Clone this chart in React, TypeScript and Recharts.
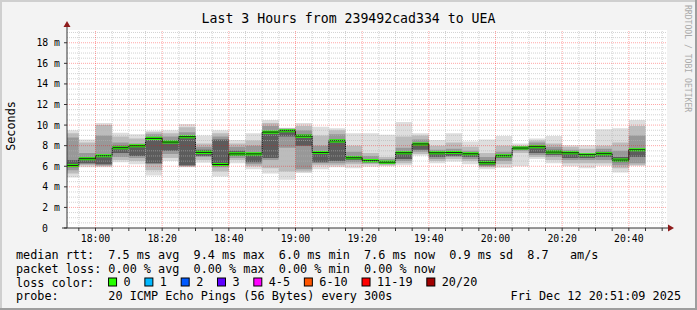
import {
    ComposedChart, Area, Line, XAxis, YAxis, CartesianGrid,
    ReferenceLine, ReferenceDot,
} from "recharts";

// 5 minute steps, each value holds from its start time to the next one
const TIMES = [
    "17:50", "17:55", "18:00", "18:05", "18:10", "18:15", "18:20", "18:25", "18:30",
    "18:35", "18:40", "18:45", "18:50", "18:55", "19:00", "19:05", "19:10", "19:15",
    "19:20", "19:25", "19:30", "19:35", "19:40", "19:45", "19:50", "19:55", "20:00",
    "20:05", "20:10", "20:15", "20:20", "20:25", "20:30", "20:35", "20:40", "20:45",
];

// median rtt in ms
const MEDIAN = [
    6.08, 6.73, 7.02, 7.8, 7.99, 8.71, 8.35, 8.87, 7.35, 6.17, 7.2, 7.2,
    9.32, 9.45, 8.93, 7.33, 8.47, 6.82, 6.55, 6.4, 7.31, 8.17, 7.31, 7.33,
    7.21, 6.34, 7.02, 7.77, 7.9, 7.38, 7.31, 7.12, 7.22, 6.6, 7.6,
];

// smoke bands, outer to inner (ms)
const SMOKE_MIN = [
    4.9, 5.9, 5.9, 6.4, 6.2, 5.1, 6.5, 5.9, 6.35, 5.0, 6.3, 5.7,
    5.3, 4.7, 5.35, 5.7, 5.9, 5.8, 5.95, 6.0, 6.1, 7.05, 6.3, 6.45,
    6.2, 5.7, 5.85, 6.0, 6.7, 6.3, 6.0, 5.8, 6.05, 5.4, 6.05,
];
const SMOKE_MAX = [
    9.5, 8.6, 10.2, 9.25, 9.1, 9.45, 9.5, 10.1, 9.0, 9.5, 8.55, 9.2,
    10.5, 9.75, 10.2, 9.85, 9.7, 9.2, 9.2, 9.05, 10.3, 9.2, 8.55, 9.2,
    8.4, 8.6, 8.95, 8.2, 8.7, 8.95, 8.05, 8.05, 9.6, 9.7, 10.5,
];
const SMOKE_LO2 = [
    5.3, 6.1, 6.0, 6.6, 6.5, 5.6, 6.8, 6.0, 6.6, 5.5, 6.6, 6.0,
    5.8, 5.5, 5.5, 6.1, 6.1, 6.2, 6.2, 6.1, 6.3, 7.2, 6.5, 6.7,
    6.5, 5.9, 6.2, 7.3, 6.9, 6.6, 6.3, 6.3, 6.3, 5.8, 6.1,
];
const SMOKE_HI2 = [
    9.2, 8.3, 10.0, 8.9, 8.7, 9.3, 9.2, 9.8, 8.2, 9.2, 8.2, 8.5,
    10.2, 9.7, 9.9, 9.0, 9.5, 8.0, 7.3, 6.9, 8.9, 9.0, 8.0, 8.3,
    7.9, 7.3, 8.0, 8.0, 8.5, 8.2, 7.9, 7.7, 8.0, 8.3, 9.9,
];
const SMOKE_LO3 = [
    5.6, 6.2, 6.1, 6.9, 6.8, 6.2, 7.2, 6.0, 6.9, 5.9, 6.8, 6.2,
    6.6, 7.8, 5.7, 6.3, 6.3, 6.4, 6.3, 6.2, 6.5, 7.4, 6.7, 6.9,
    6.7, 6.0, 6.5, 7.5, 7.1, 6.9, 6.6, 6.6, 6.6, 6.1, 6.3,
];
const SMOKE_HI3 = [
    8.8, 7.3, 9.0, 8.3, 8.2, 9.1, 8.9, 9.3, 7.9, 8.9, 7.9, 8.0,
    9.9, 9.65, 9.5, 8.0, 9.1, 7.4, 7.0, 6.7, 7.8, 8.6, 7.6, 7.7,
    7.5, 6.9, 7.4, 7.95, 8.3, 7.9, 7.6, 7.3, 7.7, 7.5, 9.0,
];
const SMOKE_LO4 = [
    5.9, 6.3, 6.2, 7.3, 7.0, 6.3, 7.5, 6.1, 7.0, 6.1, 7.0, 6.4,
    6.8, 8.9, 8.0, 6.4, 6.5, 6.6, 6.4, 6.25, 6.7, 7.6, 6.9, 7.0,
    6.9, 6.1, 6.8, 7.6, 7.3, 7.1, 6.8, 6.8, 6.9, 6.4, 6.9,
];
const SMOKE_HI4 = [
    6.6, 6.9, 7.1, 8.0, 8.05, 8.8, 8.5, 8.9, 7.6, 8.6, 7.5, 7.25,
    9.4, 9.6, 9.1, 7.4, 8.6, 7.0, 6.7, 6.5, 7.35, 8.2, 7.35, 7.4,
    7.3, 6.6, 7.15, 7.9, 8.0, 7.6, 7.4, 7.2, 7.4, 6.9, 7.65,
];

const X_LABELS = ["18:00", "18:20", "18:40", "19:00", "19:20", "19:40", "20:00", "20:20", "20:40"];
const Y_LABELS = [0, 2, 4, 6, 8, 10, 12, 14, 16, 18];

const LOSS_LABELS = ["0", "1", "2", "3", "4-5", "6-10", "11-19", "20/20"];
const LOSS_COLORS = ["#26ff00", "#00b8ff", "#0059ff", "#5e00ff", "#ff00ff", "#ff5500", "#ff0000", "#a10000"];

const TITLE = "Last 3 Hours from 239492cad334 to UEA";
const LEGEND_LINES = [
    "median rtt:  7.5 ms avg  9.4 ms max  6.0 ms min  7.6 ms now  0.9 ms sd  8.7   am/s",
    "packet loss: 0.00 % avg  0.00 % max  0.00 % min  0.00 % now",
    "loss color:",
    "probe:       20 ICMP Echo Pings (56 Bytes) every 300s",
];
const STAMP = "Fri Dec 12 20:51:09 2025";

const toMin = (s: string) => {
    const [h, m] = s.split(":").map(Number);
    return h * 60 + m;
};

const X_START = 1071.45;
const X_END = X_START + 180;
const Y_MAX = 19.24;

const FONT = "'DejaVu Sans Mono', monospace";
const AXIS = "#333333";
const ARROW = "#8e1b1b";
const CW = 7.12; // legend char width
const PRE = { whiteSpace: "pre" as const };

const last = MEDIAN.length - 1;
const rows = TIMES.map((t, i) => {
    const k = Math.min(i, last);
    return {
        t: toMin(t),
        med: MEDIAN[k],
        min: SMOKE_MIN[k], max: SMOKE_MAX[k],
        lo2: SMOKE_LO2[k], hi2: SMOKE_HI2[k],
        lo3: SMOKE_LO3[k], hi3: SMOKE_HI3[k],
        lo4: SMOKE_LO4[k], hi4: SMOKE_HI4[k],
    };
});

const BANDS: [string, string, string][] = [
    ["min", "max", "#dedede"],
    ["lo2", "hi2", "#bcbcbc"],
    ["lo3", "hi3", "#989898"],
    ["lo4", "hi4", "#5c5c5c"],
];

const majorX = X_LABELS.map(toMin);
const minorX: number[] = [];
for (let m = 1075; m <= 1250; m += 5) if (!majorX.includes(m)) minorX.push(m);
const majorY = Y_LABELS.filter((v) => v > 0);
const minorY: number[] = [];
for (let v = 0.5; v <= 19; v += 0.5) if (!Y_LABELS.includes(v)) minorY.push(v);
const xTicks = [...minorX, ...majorX].sort((a, b) => a - b);

const XTick = (p: any) => {
    const v = p.payload.value;
    const i = majorX.indexOf(v);
    if (i < 0) return <g />;
    return (
        <text x={p.x} y={p.y + 8.5} textAnchor="middle" fontFamily={FONT} fontSize={9.8} fill="#000">
            {X_LABELS[i]}
        </text>
    );
};

const YTick = (p: any) => {
    const v = p.payload.value;
    return (
        <text x={v === 0 ? p.x - 14 : p.x - 2} y={p.y + 3.5} textAnchor="end" fontFamily={FONT} fontSize={9.8} fill="#000">
            {v === 0 ? "0" : `${v} m`}
        </text>
    );
};

const LossLegend = () => {
    let col = 13;
    const items = LOSS_LABELS.map((label, i) => {
        const bx = 16 + col * CW;
        const lx = 16 + (col + 2.1) * CW;
        col += 2.1 + label.length + 2;
        return (
            <g key={label}>
                <rect x={bx} y={278} width={8} height={8} fill={LOSS_COLORS[i]} stroke="#000" strokeWidth={1} />
                <text x={lx} y={286}>{label}</text>
            </g>
        );
    });
    return <g>{items}</g>;
};

export default function App() {
    return (
        <div style={{ position: "absolute", left: 0, top: 0, width: 697, height: 310, background: "#f3f3f3" }}>
            <ComposedChart width={697} height={310} data={rows} margin={{ top: 30, right: 30, bottom: 0, left: 0 }}>
                <CartesianGrid fill="#ffffff" horizontal={false} vertical={false} />
                <XAxis
                    type="number" dataKey="t" domain={[X_START, X_END]} allowDataOverflow
                    ticks={xTicks} interval={0} height={82} tickSize={3}
                    tick={(p: any) => <XTick {...p} />}
                    axisLine={{ stroke: AXIS }} tickLine={{ stroke: AXIS }}
                />
                <YAxis
                    type="number" domain={[0, Y_MAX]} allowDataOverflow
                    ticks={Y_LABELS} interval={0} width={67} tickSize={3}
                    tick={(p: any) => <YTick {...p} />}
                    axisLine={{ stroke: AXIS }} tickLine={{ stroke: AXIS }}
                />

                {BANDS.map(([lo, hi, color]) => (
                    <Area
                        key={lo}
                        dataKey={(d: any) => [d[lo], d[hi]]}
                        type="stepAfter" stroke="none" fill={color} fillOpacity={1}
                        isAnimationActive={false}
                    />
                ))}
                <Line dataKey="med" type="stepAfter" stroke="#1a1a1a" strokeWidth={1} dot={false} isAnimationActive={false} />
                <Area
                    dataKey={(d: any) => [d.med - 0.15, d.med + 0.15]}
                    type="stepAfter" stroke="none" fill="#26ff00" fillOpacity={1}
                    isAnimationActive={false}
                />

                {/* grid on top, like rrdtool */}
                {minorY.map((v) => (
                    <ReferenceLine key={`my${v}`} y={v} stroke="#b4b4b4" strokeOpacity={0.6} strokeDasharray="1 1" />
                ))}
                {minorX.map((v) => (
                    <ReferenceLine key={`mx${v}`} x={v} stroke="#b4b4b4" strokeOpacity={0.6} strokeDasharray="1 1" />
                ))}
                {majorY.map((v) => (
                    <ReferenceLine key={`My${v}`} y={v} stroke="#ff0000" strokeOpacity={0.35} strokeDasharray="1 1" />
                ))}
                {majorX.map((v) => (
                    <ReferenceLine key={`Mx${v}`} x={v} stroke="#ff0000" strokeOpacity={0.35} strokeDasharray="1 1" />
                ))}

                {/* axis arrows and origin overshoot */}
                <ReferenceDot
                    x={X_END} y={0} r={0} ifOverflow="visible"
                    shape={(p: any) => (
                        <g>
                            <line x1={p.cx} y1={p.cy} x2={p.cx + 3} y2={p.cy} stroke={AXIS} />
                            <path d={`M${p.cx + 1},${p.cy - 3.5} L${p.cx + 7},${p.cy} L${p.cx + 1},${p.cy + 3.5} Z`} fill={ARROW} />
                        </g>
                    )}
                />
                <ReferenceDot
                    x={X_START} y={Y_MAX} r={0} ifOverflow="visible"
                    shape={(p: any) => (
                        <g>
                            <line x1={p.cx} y1={p.cy} x2={p.cx} y2={p.cy - 4} stroke={AXIS} />
                            <path d={`M${p.cx - 3.5},${p.cy - 3} L${p.cx},${p.cy - 9} L${p.cx + 3.5},${p.cy - 3} Z`} fill={ARROW} />
                        </g>
                    )}
                />
                <ReferenceDot
                    x={X_START} y={0} r={0} ifOverflow="visible"
                    shape={(p: any) => (
                        <g>
                            <line x1={p.cx - 5} y1={p.cy} x2={p.cx} y2={p.cy} stroke={AXIS} />
                        </g>
                    )}
                />
            </ComposedChart>

            <svg width={697} height={310} style={{ position: "absolute", left: 0, top: 0, pointerEvents: "none" }}>
                <line x1={0} y1={1} x2={697} y2={1} stroke="#cfcfcf" strokeWidth={2} />
                <line x1={1} y1={0} x2={1} y2={310} stroke="#cfcfcf" strokeWidth={2} />
                <line x1={696} y1={0} x2={696} y2={310} stroke="#9e9e9e" strokeWidth={2} />
                <line x1={0} y1={309} x2={697} y2={309} stroke="#9e9e9e" strokeWidth={2} />

                <text x={348.5} y={23} textAnchor="middle" fontFamily={FONT} fontSize={13.2} fill="#000" xmlSpace="preserve" style={PRE}>
                    {TITLE}
                </text>
                <text
                    x={11} y={126} textAnchor="middle" dominantBaseline="central"
                    transform="rotate(-90 11 126)" fontFamily={FONT} fontSize={11.8} fill="#000"
                >
                    Seconds
                </text>
                <text
                    x={685} y={5} transform="rotate(90 685 5)" fontFamily={FONT} fontSize={8.1} fill="#aaaaaa"
                    xmlSpace="preserve" style={PRE}
                >
                    RRDTOOL / TOBI OETIKER
                </text>

                <g fontFamily={FONT} fontSize={11.8} fill="#000">
                    {LEGEND_LINES.map((line, i) => (
                        <text key={i} x={16} y={259 + i * 13.8} xmlSpace="preserve" style={PRE}>{line}</text>
                    ))}
                    <LossLegend />
                    <text x={681} y={300.4} textAnchor="end" xmlSpace="preserve" style={PRE}>{STAMP}</text>
                </g>
            </svg>
        </div>
    );
}
